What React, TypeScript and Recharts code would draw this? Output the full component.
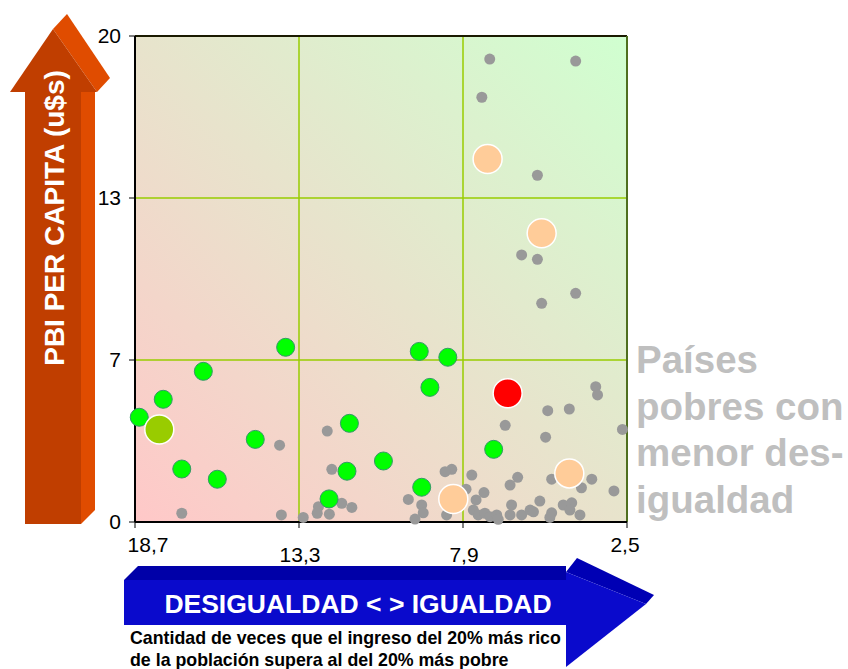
import { ScatterChart, Scatter, XAxis, YAxis, CartesianGrid, ReferenceLine } from "recharts";

const FONT = '"Liberation Sans", Arial, sans-serif';

// eje x invertido: desigualdad (veces) de 18,7 a 2,5
const xTicks = [18.7, 13.3, 7.9, 2.5];
// eje y: PBI per cápita, líneas en tercios, rotuladas 0, 7, 13, 20
const yTicks = [0, 20 / 3, 40 / 3, 20];

const paisesGrises = [
  { x: 7.02, y: 19.05 }, { x: 4.19, y: 18.97 }, { x: 7.28, y: 17.48 }, { x: 5.45, y: 14.27 },
  { x: 5.97, y: 10.99 }, { x: 5.45, y: 10.81 }, { x: 4.19, y: 9.41 }, { x: 5.31, y: 9.0 },
  { x: 3.53, y: 5.57 }, { x: 3.47, y: 5.23 }, { x: 4.4, y: 4.65 }, { x: 5.11, y: 4.58 },
  { x: 6.51, y: 3.98 }, { x: 5.18, y: 3.49 }, { x: 2.65, y: 3.81 }, { x: 17.16, y: 0.36 },
  { x: 13.94, y: 3.16 }, { x: 13.88, y: 0.29 }, { x: 13.16, y: 0.19 }, { x: 12.37, y: 3.74 },
  { x: 12.22, y: 2.17 }, { x: 12.66, y: 0.63 }, { x: 12.7, y: 0.36 }, { x: 12.3, y: 0.32 },
  { x: 11.89, y: 0.77 }, { x: 11.56, y: 0.6 }, { x: 8.27, y: 2.17 }, { x: 8.49, y: 2.07 },
  { x: 7.61, y: 1.93 }, { x: 9.7, y: 0.93 }, { x: 9.26, y: 0.7 }, { x: 9.21, y: 0.38 },
  { x: 9.48, y: 0.12 }, { x: 8.44, y: 0.29 }, { x: 7.8, y: 1.35 }, { x: 7.47, y: 0.91 },
  { x: 7.21, y: 1.21 }, { x: 7.56, y: 0.49 }, { x: 7.4, y: 0.29 }, { x: 7.18, y: 0.36 },
  { x: 7.01, y: 0.22 }, { x: 6.79, y: 0.29 }, { x: 6.74, y: 0.11 }, { x: 6.35, y: 1.52 },
  { x: 6.1, y: 1.84 }, { x: 6.3, y: 0.7 }, { x: 6.35, y: 0.29 }, { x: 5.97, y: 0.29 },
  { x: 5.69, y: 0.49 }, { x: 5.58, y: 0.42 }, { x: 5.37, y: 0.86 }, { x: 4.98, y: 0.38 },
  { x: 5.04, y: 0.19 }, { x: 4.98, y: 1.76 }, { x: 4.6, y: 0.7 }, { x: 4.32, y: 0.79 },
  { x: 4.38, y: 0.49 }, { x: 4.05, y: 0.29 }, { x: 4.0, y: 1.41 }, { x: 3.66, y: 1.76 },
  { x: 2.93, y: 1.28 },
];

const paisesVerdes = [
  { x: 13.74, y: 7.19 }, { x: 16.45, y: 6.2 }, { x: 17.77, y: 5.05 }, { x: 18.56, y: 4.31 },
  { x: 14.74, y: 3.4 }, { x: 17.16, y: 2.18 }, { x: 15.99, y: 1.76 }, { x: 11.64, y: 4.06 },
  { x: 11.72, y: 2.09 }, { x: 12.31, y: 0.95 }, { x: 10.52, y: 2.51 }, { x: 9.34, y: 7.02 },
  { x: 8.4, y: 6.78 }, { x: 8.99, y: 5.54 }, { x: 9.26, y: 1.43 }, { x: 6.89, y: 2.99 },
];

const paisesNaranja = [
  { x: 7.09, y: 14.94 }, { x: 5.31, y: 11.88 }, { x: 4.4, y: 2.0 }, { x: 8.22, y: 0.95 },
];

const puntoRojo = [{ x: 6.43, y: 5.3 }];
const puntoOliva = [{ x: 17.9, y: 3.81 }];

const dot = (r: number, fill: string, stroke: string, sw: number) => (p: any) => (
  <circle cx={p.cx} cy={p.cy} r={r} fill={fill} stroke={stroke} strokeWidth={sw} />
);

const XTick = (props: any) => {
  const { x, y, payload } = props;
  const v = payload.value;
  const edge = v === 18.7 || v === 2.5;
  const dx = v === 18.7 ? 13 : v === 2.5 ? -2 : 1;
  return (
    <text x={x + dx} y={y + (edge ? 22 : 32)} textAnchor="middle" fontSize={21} fontFamily={FONT} fill="#000">
      {String(v).replace(".", ",")}
    </text>
  );
};

export default function App() {
  return (
    <div style={{ position: "absolute", left: 0, top: 0, width: 848, height: 669, background: "#fff", overflow: "hidden" }}>
      <svg width={0} height={0} style={{ position: "absolute" }}>
        <defs>
          <linearGradient id="fondo" x1="0" y1="1" x2="1" y2="0">
            <stop offset="0%" stopColor="#FFC8C8" />
            <stop offset="100%" stopColor="#D0FFD0" />
          </linearGradient>
        </defs>
      </svg>

      {/* flecha naranja */}
      <svg width={848} height={669} style={{ position: "absolute", left: 0, top: 0 }}>
        <polygon points="81,92 95,92 95,510 81,524" fill="#E04C00" />
        <rect x={25} y={92} width={56} height={432} fill="#C03E00" />
        <polygon points="53,29 67,14 110,78 97,92" fill="#E04C00" />
        <polygon points="10,92 53,29 97,92" fill="#C03E00" />
        <text transform="translate(64,218) rotate(-90)" textAnchor="middle" fontSize={28} fontWeight="bold" fontFamily={FONT} fill="#fff">
          PBI PER CAPITA (u$s)
        </text>

        {/* flecha azul */}
        <polygon points="124,580 138,566 566,566 566,580" fill="#0000A8" />
        <rect x={124} y={580} width={442} height={45} fill="#0A0ACC" />
        <polygon points="566,572 577,558 654,595 646,604" fill="#0000B4" />
        <polygon points="566,572 646,604 566,667" fill="#0A0ACC" />
        <text x={358} y={613} textAnchor="middle" fontSize={26.5} fontWeight="bold" fontFamily={FONT} fill="#fff">
          DESIGUALDAD &lt; &gt; IGUALDAD
        </text>

        <text x={130} y={644} fontSize={17.8} fontWeight="bold" fontFamily={FONT} fill="#000">
          Cantidad de veces que el ingreso del 20% más rico
        </text>
        <text x={130} y={666} fontSize={17.8} fontWeight="bold" fontFamily={FONT} fill="#000">
          de la población supera al del 20% más pobre
        </text>

        <g fontSize={38.5} fontWeight="bold" fontFamily={FONT} fill="#BFBFBF">
          <text x={636} y={373}>Países</text>
          <text x={636} y={420}>pobres con</text>
          <text x={636} y={466}>menor des-</text>
          <text x={636} y={513}>igualdad</text>
        </g>
      </svg>

      <div style={{ position: "absolute", left: 0, top: 0 }}>
        <ScatterChart width={848} height={669} margin={{ top: 36, right: 221, bottom: 107, left: 75 }}>
          <CartesianGrid stroke="#99CC00" strokeWidth={1.5} fill="url(#fondo)" fillOpacity={1} />
          <XAxis
            type="number"
            dataKey="x"
            domain={[2.5, 18.7]}
            reversed
            ticks={xTicks}
            height={40}
            axisLine={{ stroke: "#000", strokeWidth: 2 }}
            tickLine={{ stroke: "#000" }}
            tickSize={6}
            tick={<XTick />}
            interval={0}
          />
          <YAxis
            type="number"
            dataKey="y"
            domain={[0, 20]}
            ticks={yTicks}
            width={60}
            tickFormatter={(v: number) => String(Math.round(v))}
            axisLine={{ stroke: "#000", strokeWidth: 2 }}
            tickLine={{ stroke: "#000" }}
            tickSize={6}
            tickMargin={8}
            tick={{ fontSize: 21, fill: "#000", fontFamily: FONT }}
            interval={0}
          />
          <ReferenceLine y={20} stroke="#1A1A00" strokeWidth={2} />
          <ReferenceLine x={2.5} stroke="#4F6F1F" strokeWidth={2} />
          <Scatter data={paisesGrises} shape={dot(5.5, "#999999", "none", 0)} isAnimationActive={false} />
          <Scatter data={paisesVerdes} shape={dot(9, "#00FF00", "#339966", 1)} isAnimationActive={false} />
          <Scatter data={paisesNaranja} shape={dot(14.5, "#FFCC99", "#FFFFFF", 1.5)} isAnimationActive={false} />
          <Scatter data={puntoRojo} shape={dot(14.5, "#FF0000", "#FFFFFF", 1.5)} isAnimationActive={false} />
          <Scatter data={puntoOliva} shape={dot(14.5, "#99CC00", "#FFFFFF", 1.5)} isAnimationActive={false} />
        </ScatterChart>
      </div>
    </div>
  );
}
